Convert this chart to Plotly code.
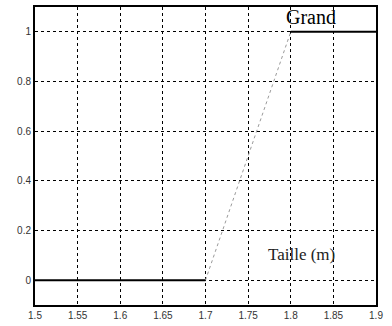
import plotly.graph_objects as go

# Membership function "Grand" (tall) versus height in metres
low_x = [1.5, 1.7]
low_y = [0, 0]
ramp_x = [1.7, 1.8]
ramp_y = [0, 1]
high_x = [1.8, 1.9]
high_y = [1, 1]

x_ticks = [1.5, 1.55, 1.6, 1.65, 1.7, 1.75, 1.8, 1.85, 1.9]
x_tick_labels = ["1.5", "1.55", "1.6", "1.65", "1.7", "1.75", "1.8", "1.85", "1.9"]
y_ticks = [0, 0.2, 0.4, 0.6, 0.8, 1]
y_tick_labels = ["0", "0.2", "0.4", "0.6", "0.8", "1"]

fig = go.Figure()
fig.add_trace(go.Scatter(x=low_x, y=low_y, mode="lines",
                         line=dict(color="black", width=2), hoverinfo="skip"))
fig.add_trace(go.Scatter(x=ramp_x, y=ramp_y, mode="lines",
                         line=dict(color="#9a9a9a", width=1, dash="dot"), hoverinfo="skip"))
fig.add_trace(go.Scatter(x=high_x, y=high_y, mode="lines",
                         line=dict(color="black", width=2), hoverinfo="skip"))

fig.add_annotation(x=1.824, y=1.06, text="Grand", showarrow=False,
                   font=dict(family="Liberation Serif", size=20, color="black"))
fig.add_annotation(x=1.813, y=0.103, text="Taille (m)", showarrow=False,
                   font=dict(family="Liberation Serif", size=17, color="#222"))

fig.update_layout(
    width=392, height=326,
    margin=dict(l=35, r=16, t=5, b=19),
    paper_bgcolor="white", plot_bgcolor="white",
    showlegend=False,
    font=dict(family="Liberation Sans", size=10, color="#333"),
    xaxis=dict(range=[1.5, 1.9], tickvals=x_ticks, ticktext=x_tick_labels,
               showgrid=True, gridcolor="black", griddash="dot", gridwidth=1,
               showline=True, linecolor="black", linewidth=2, mirror=True,
               ticks="", zeroline=False, ticklen=0),
    yaxis=dict(range=[-0.1, 1.1], tickvals=y_ticks, ticktext=y_tick_labels,
               showgrid=True, gridcolor="black", griddash="dot", gridwidth=1,
               showline=True, linecolor="black", linewidth=2, mirror=True,
               ticks="", zeroline=False),
)

fig.write_html("out.html", config={"displayModeBar": False},
               post_script="document.body.style.margin='0';")
